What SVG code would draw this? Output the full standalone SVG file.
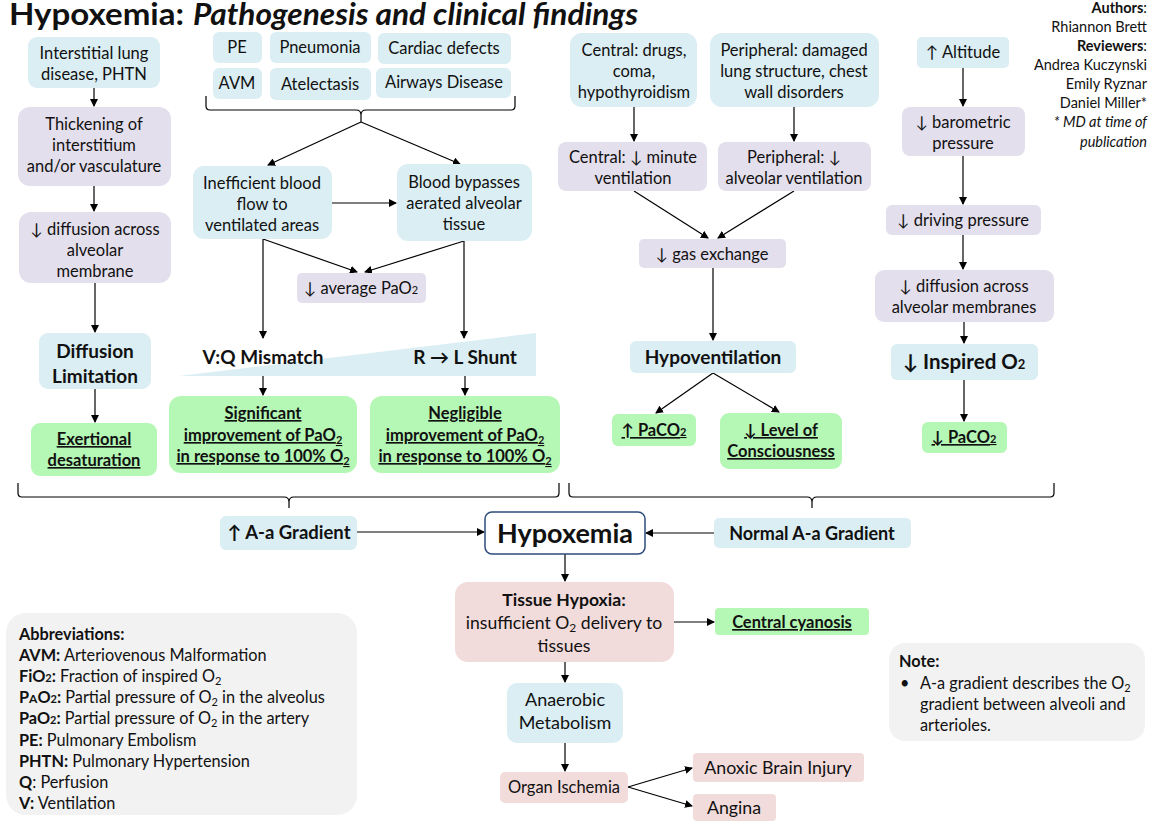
<svg xmlns="http://www.w3.org/2000/svg" width="1151" height="825" viewBox="0 0 1151 825">
<defs>
<marker id="ah" markerWidth="8" markerHeight="8" refX="7" refY="4" orient="auto" markerUnits="userSpaceOnUse">
<path d="M0,0 L8,4 L0,8 Z" fill="#000"/>
</marker>
<style>
text{font-family:Lato,"Liberation Sans",sans-serif;font-size:16.5px;fill:#111;text-anchor:middle}
.bl{fill:#DAEEF3}.pu{fill:#E4DFEC}.gn{fill:#B5F7B5}.pk{fill:#F2DCDB}.gy{fill:#F2F2F2}
.bd{font-weight:bold}.u{text-decoration:underline}
.h{font-size:19px;font-weight:bold}
.s{font-size:11px}
.l{text-anchor:start}.r{text-anchor:end;font-size:14.5px}
.ab{font-size:16.3px}
.lg{font-size:17.6px}
#connectors line,#connectors path{stroke:#000;stroke-width:1.2;fill:none}
.ar{marker-end:url(#ah)}
</style>
</defs>
<rect width="1151" height="825" fill="#fff"/>
<g id="title">
<text x="9" y="25" class="l bd" style="font-size:30px" textLength="175" lengthAdjust="spacingAndGlyphs">Hypoxemia:</text>
<text x="193" y="25" class="l bd" style="font-size:30px" font-style="italic" textLength="445" lengthAdjust="spacingAndGlyphs">Pathogenesis and clinical findings</text>
</g>
<g id="authors">
<text x="1147" y="13" class="r bd">Authors<tspan font-weight="normal">:</tspan></text>
<text x="1147" y="32" class="r">Rhiannon Brett</text>
<text x="1147" y="51" class="r bd">Reviewers<tspan font-weight="normal">:</tspan></text>
<text x="1147" y="70" class="r">Andrea Kuczynski</text>
<text x="1147" y="89" class="r">Emily Ryznar</text>
<text x="1147" y="108" class="r">Daniel Miller*</text>
<text x="1147" y="127" class="r" font-style="italic">* MD at time of</text>
<text x="1147" y="147" class="r" font-style="italic">publication</text>
</g>

<g id="connectors">
<line class="ar" x1="94" y1="88" x2="94" y2="106"/>
<line class="ar" x1="94" y1="186" x2="94" y2="211"/>
<line class="ar" x1="95" y1="283" x2="95" y2="332"/>
<line class="ar" x1="95" y1="389" x2="95" y2="422"/>
<path d="M206,96 L206,106 Q206,110 210,110 L356,110 Q361,110 361,115 L361,122 M361,115 Q361,110 366,110 L511,110 Q515,110 515,106 L515,96"/>
<line class="ar" x1="361" y1="122" x2="268" y2="165"/>
<line class="ar" x1="361" y1="122" x2="460" y2="164"/>
<line class="ar" x1="332" y1="203" x2="396" y2="203"/>
<line class="ar" x1="263" y1="239" x2="357" y2="272"/>
<line class="ar" x1="464" y1="241" x2="365" y2="272"/>
<line class="ar" x1="263" y1="239" x2="263" y2="338"/>
<line class="ar" x1="464" y1="241" x2="464" y2="338"/>
<line class="ar" x1="263" y1="376" x2="263" y2="395"/>
<line class="ar" x1="465" y1="376" x2="465" y2="395"/>
<path d="M18,483 L18,493 Q18,497 22,497 L284,497 Q289,497 289,502 L289,508 M289,502 Q289,497 294,497 L555,497 Q559,497 559,493 L559,483"/>
<path d="M569,483 L569,493 Q569,497 573,497 L807,497 Q812,497 812,502 L812,508 M812,502 Q812,497 817,497 L1050,497 Q1054,497 1054,493 L1054,483"/>
<line class="ar" x1="357" y1="532" x2="484" y2="532"/>
<line class="ar" x1="714" y1="533" x2="646" y2="533"/>
<line class="ar" x1="634" y1="107" x2="634" y2="141"/>
<line class="ar" x1="794" y1="107" x2="794" y2="141"/>
<line class="ar" x1="634" y1="191" x2="708" y2="238"/>
<line class="ar" x1="794" y1="191" x2="718" y2="238"/>
<line class="ar" x1="713" y1="268" x2="713" y2="340"/>
<line class="ar" x1="713" y1="373" x2="656" y2="413"/>
<line class="ar" x1="713" y1="373" x2="779" y2="412"/>
<line class="ar" x1="963" y1="68" x2="963" y2="106"/>
<line class="ar" x1="963" y1="156" x2="963" y2="204"/>
<line class="ar" x1="963" y1="235" x2="963" y2="269"/>
<line class="ar" x1="964" y1="322" x2="964" y2="343"/>
<line class="ar" x1="964" y1="380" x2="964" y2="421"/>
<line class="ar" x1="565" y1="554" x2="565" y2="581"/>
<line class="ar" x1="674" y1="622" x2="714" y2="622"/>
<line class="ar" x1="565" y1="662" x2="565" y2="682"/>
<line class="ar" x1="565" y1="743" x2="565" y2="771"/>
<line class="ar" x1="628" y1="787" x2="692" y2="768"/>
<line class="ar" x1="628" y1="787" x2="692" y2="806"/>
</g>

<g id="n_ild"><rect class="bl" x="28" y="37" width="132" height="51" rx="9"/><text x="94" y="59">Interstitial lung</text><text x="94" y="80">disease, PHTN</text></g>
<g id="n_thick"><rect class="pu" x="18" y="107" width="153" height="79" rx="12"/><text x="94" y="130">Thickening of</text><text x="94" y="151">interstitium</text><text x="94" y="172">and/or vasculature</text></g>
<g id="n_diffmem"><rect class="pu" x="19" y="212" width="152" height="71" rx="12"/><text x="95" y="235">↓ diffusion across</text><text x="95" y="256">alveolar</text><text x="95" y="277">membrane</text></g>
<g id="n_difflim"><rect class="bl" x="39" y="333" width="112" height="56" rx="9"/><text x="95" y="358" class="h">Diffusion</text><text x="95" y="383" class="h">Limitation</text></g>
<g id="n_exert"><rect class="gn" x="31" y="423" width="126" height="53" rx="9"/><text x="94" y="445" class="bd u">Exertional</text><text x="94" y="466" class="bd u">desaturation</text></g>

<g id="n_pe"><rect class="bl" x="213" y="32" width="49" height="31" rx="6"/><text x="237" y="53">PE</text></g>
<g id="n_pneu"><rect class="bl" x="270" y="32" width="101" height="31" rx="6"/><text x="320" y="53">Pneumonia</text></g>
<g id="n_card"><rect class="bl" x="378" y="33" width="133" height="31" rx="6"/><text x="444" y="54">Cardiac defects</text></g>
<g id="n_avm"><rect class="bl" x="213" y="68" width="49" height="31" rx="6"/><text x="237" y="89">AVM</text></g>
<g id="n_atel"><rect class="bl" x="270" y="68" width="101" height="32" rx="6"/><text x="320" y="90">Atelectasis</text></g>
<g id="n_airw"><rect class="bl" x="376" y="68" width="135" height="30" rx="6"/><text x="444" y="88">Airways Disease</text></g>

<g id="n_ineff"><rect class="bl" x="193" y="166" width="139" height="73" rx="11"/><text x="262" y="189">Inefficient blood</text><text x="262" y="210">flow to</text><text x="262" y="231">ventilated areas</text></g>
<g id="n_bypass"><rect class="bl" x="397" y="164" width="135" height="77" rx="11"/><text x="464" y="188">Blood bypasses</text><text x="464" y="209">aerated alveolar</text><text x="464" y="230">tissue</text></g>
<g id="n_avgpao2"><rect class="pu" x="297" y="273" width="129" height="30" rx="5"/><text x="361" y="294">↓ average PaO<tspan class="s">2</tspan></text></g>
<g id="n_wedge"><polygon class="bl" points="179,376 536,333 536,376"/></g>
<g id="n_vq"><text x="263" y="364" class="h">V:Q Mismatch</text></g>
<g id="n_shunt"><text x="465" y="364" class="h">R → L Shunt</text></g>
<g id="n_signif"><rect class="gn" x="169" y="396" width="188" height="77" rx="12"/><text x="263" y="419" class="bd u">Significant</text><text x="263" y="441" class="bd u">improvement of PaO<tspan class="s" dy="3">2</tspan></text><text x="263" y="462" class="bd u">in response to 100% O<tspan class="s" dy="3">2</tspan></text></g>
<g id="n_neglig"><rect class="gn" x="370" y="396" width="190" height="77" rx="12"/><text x="465" y="419" class="bd u">Negligible</text><text x="465" y="441" class="bd u">improvement of PaO<tspan class="s" dy="3">2</tspan></text><text x="465" y="462" class="bd u">in response to 100% O<tspan class="s" dy="3">2</tspan></text></g>

<g id="n_central"><rect class="bl" x="570" y="33" width="127" height="74" rx="12"/><text x="634" y="56">Central: drugs,</text><text x="634" y="77">coma,</text><text x="634" y="98">hypothyroidism</text></g>
<g id="n_periph"><rect class="bl" x="710" y="33" width="169" height="74" rx="12"/><text x="794" y="56">Peripheral: damaged</text><text x="794" y="77">lung structure, chest</text><text x="794" y="98">wall disorders</text></g>
<g id="n_minvent"><rect class="pu" x="558" y="142" width="149" height="49" rx="8"/><text x="633" y="163">Central: ↓ minute</text><text x="633" y="184">ventilation</text></g>
<g id="n_alvvent"><rect class="pu" x="718" y="142" width="153" height="49" rx="8"/><text x="794" y="163">Peripheral: ↓</text><text x="794" y="184">alveolar ventilation</text></g>
<g id="n_gasex"><rect class="pu" x="639" y="239" width="147" height="29" rx="5"/><text x="712" y="260">↓ gas exchange</text></g>
<g id="n_hypovent"><rect class="bl" x="630" y="341" width="166" height="32" rx="6"/><text x="713" y="364" class="h">Hypoventilation</text></g>
<g id="n_upco2"><rect class="gn" x="612" y="414" width="84" height="32" rx="6"/><text x="654" y="436" class="bd u">↑ PaCO<tspan class="s">2</tspan></text></g>
<g id="n_loc"><rect class="gn" x="720" y="413" width="122" height="56" rx="9"/><text x="781" y="436" class="bd u">↓ Level of</text><text x="781" y="457" class="bd u">Consciousness</text></g>

<g id="n_alt"><rect class="bl" x="917" y="37" width="92" height="31" rx="5"/><text x="963" y="58">↑ Altitude</text></g>
<g id="n_baro"><rect class="pu" x="902" y="107" width="123" height="49" rx="8"/><text x="963" y="128">↓ barometric</text><text x="963" y="149">pressure</text></g>
<g id="n_drive"><rect class="pu" x="886" y="205" width="155" height="30" rx="6"/><text x="963" y="226">↓ driving pressure</text></g>
<g id="n_diffalv"><rect class="pu" x="875" y="270" width="179" height="52" rx="9"/><text x="964" y="292">↓ diffusion across</text><text x="964" y="313">alveolar membranes</text></g>
<g id="n_inspo2"><rect class="bl" x="891" y="344" width="147" height="36" rx="6"/><text x="964" y="369" class="h" style="font-size:20.5px">↓ Inspired O<tspan style="font-size:13px">2</tspan></text></g>
<g id="n_dnco2"><rect class="gn" x="922" y="422" width="85" height="31" rx="6"/><text x="964" y="443" class="bd u">↓ PaCO<tspan class="s">2</tspan></text></g>

<g id="n_upaa"><rect class="bl" x="220" y="516" width="137" height="34" rx="6"/><text x="289" y="539" class="bd" style="font-size:18.5px">↑ A-a Gradient</text></g>
<g id="n_hypox"><rect x="485" y="512" width="160" height="42" rx="7" fill="#fff" stroke="#2F4B7C" stroke-width="1.5"/><text x="565" y="543" class="bd" style="font-size:27px">Hypoxemia</text></g>
<g id="n_normaa"><rect class="bl" x="714" y="518" width="197" height="30" rx="5"/><text x="812" y="540" class="bd" style="font-size:18px">Normal A-a Gradient</text></g>

<g id="n_tissue"><rect class="pk" x="455" y="582" width="219" height="80" rx="13"/><text x="564" y="606" class="bd lg">Tissue Hypoxia:</text><text x="564" y="629" class="lg">insufficient O<tspan class="s" dy="3" style="font-size:12px">2</tspan><tspan dy="-3"> delivery to</tspan></text><text x="564" y="652" class="lg">tissues</text></g>
<g id="n_cyan"><rect class="gn" x="715" y="608" width="154" height="27" rx="4"/><text x="792" y="628" class="bd u">Central cyanosis</text></g>
<g id="n_anaer"><rect class="bl" x="507" y="683" width="116" height="60" rx="10"/><text x="565" y="706" style="font-size:18px">Anaerobic</text><text x="565" y="729" style="font-size:18px">Metabolism</text></g>
<g id="n_organ"><rect class="pk" x="500" y="772" width="128" height="31" rx="5"/><text x="564" y="793">Organ Ischemia</text></g>
<g id="n_anoxic"><rect class="pk" x="693" y="753" width="171" height="29" rx="4"/><text x="778" y="774" style="font-size:17.8px">Anoxic Brain Injury</text></g>
<g id="n_angina"><rect class="pk" x="693" y="794" width="83" height="27" rx="4"/><text x="734" y="814" style="font-size:17.8px">Angina</text></g>

<g id="abbrev"><rect class="gy" x="6" y="613" width="351" height="202" rx="20"/>
<text x="19" y="640" class="l bd ab">Abbreviations:</text>
<text x="19" y="661" class="l ab"><tspan font-weight="bold">AVM:</tspan> Arteriovenous Malformation</text>
<text x="19" y="682" class="l ab"><tspan font-weight="bold">FiO<tspan class="s">2</tspan>:</tspan> Fraction of inspired O<tspan class="s" dy="3">2</tspan></text>
<text x="19" y="703" class="l ab"><tspan font-weight="bold">P<tspan style="font-size:12px">A</tspan>O<tspan class="s">2</tspan>:</tspan> Partial pressure of O<tspan class="s" dy="3">2</tspan><tspan dy="-3"> in the alveolus</tspan></text>
<text x="19" y="724" class="l ab"><tspan font-weight="bold">PaO<tspan class="s">2</tspan>:</tspan> Partial pressure of O<tspan class="s" dy="3">2</tspan><tspan dy="-3"> in the artery</tspan></text>
<text x="19" y="746" class="l ab"><tspan font-weight="bold">PE:</tspan> Pulmonary Embolism</text>
<text x="19" y="767" class="l ab"><tspan font-weight="bold">PHTN:</tspan> Pulmonary Hypertension</text>
<text x="19" y="788" class="l ab"><tspan font-weight="bold">Q</tspan>: Perfusion</text>
<text x="19" y="809" class="l ab"><tspan font-weight="bold">V:</tspan> Ventilation</text>
</g>
<g id="note"><rect class="gy" x="889" y="643" width="256" height="98" rx="16"/>
<text x="899" y="667" class="l bd ab">Note:</text>
<text x="900" y="689" class="l ab">•</text>
<text x="920" y="689" class="l ab">A-a gradient describes the O<tspan class="s" dy="3">2</tspan></text>
<text x="920" y="710" class="l ab">gradient between alveoli and</text>
<text x="920" y="731" class="l ab">arterioles.</text>
</g>
</svg>
